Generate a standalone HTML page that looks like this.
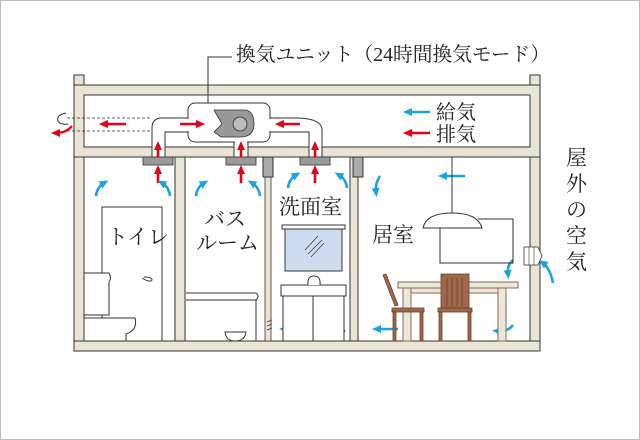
<!DOCTYPE html>
<html><head><meta charset="utf-8"><style>
html,body{margin:0;padding:0;background:#fff}
svg{display:block}
text{font-family:"Liberation Serif","Noto Serif CJK SC",serif;fill:#222}
</style></head><body>
<svg width="640" height="440" viewBox="0 0 640 440" xmlns="http://www.w3.org/2000/svg">
<defs>
<marker id="ar" markerWidth="9" markerHeight="8" refX="4" refY="4" orient="auto" markerUnits="userSpaceOnUse"><path d="M0,0 L9,4 L0,8z" fill="#e60012"/></marker>
<marker id="ab" markerWidth="9" markerHeight="8" refX="4" refY="4" orient="auto" markerUnits="userSpaceOnUse"><path d="M0,0 L9,4 L0,8z" fill="#1aa3e0"/></marker>
</defs>
<rect x="0.5" y="0.5" width="639" height="439" fill="#fff" stroke="#bbb"/>
<g fill="#e9e4d6" stroke="#333" stroke-width="1">
<rect x="74" y="75" width="10" height="276"/>
<rect x="530" y="75" width="10" height="276"/>
<rect x="74" y="85" width="466" height="10"/>
<rect x="74" y="147" width="466" height="10"/>
<rect x="74" y="341" width="466" height="10"/>
<rect x="175" y="157" width="10" height="184"/>
<rect x="350" y="157" width="8" height="184"/>
</g>
<rect x="74.5" y="85.5" width="9" height="71" fill="#e9e4d6"/>
<rect x="530.5" y="85.5" width="9" height="71" fill="#e9e4d6"/>
<rect x="74.5" y="148" width="9" height="8" fill="#e9e4d6"/>
<rect x="530.5" y="148" width="9" height="8" fill="#e9e4d6"/>
<rect x="265" y="177" width="6" height="164" fill="#e9e4d6" stroke="#333" stroke-width="0.8"/>
<rect x="263" y="157" width="10" height="20" fill="#aaa" stroke="#333"/>
<rect x="353" y="157" width="10" height="20" fill="#aaa" stroke="#333"/>
<g fill="#fff" stroke="#333" stroke-width="1">
<path d="M188,118 L162,118 Q152,118 152,128 L152,157 L165,157 L165,132 L188,132"/>
<path d="M270,118 L295,118 Q322,118 322,130 L322,157 L309,157 L309,132 L270,132"/>
<path d="M234,142 L234,157 L248,157 L248,142"/>
<rect x="188" y="103" width="82" height="39" rx="7"/>
</g>
<rect x="186" y="119" width="6" height="12" fill="#fff"/>
<rect x="266" y="119" width="6" height="12" fill="#fff"/>
<rect x="235" y="139" width="12" height="6" fill="#fff"/>
<line x1="67" y1="118" x2="152" y2="118" stroke="#333" stroke-dasharray="3,2" stroke-width="0.8"/>
<line x1="67" y1="131" x2="152" y2="131" stroke="#333" stroke-dasharray="3,2" stroke-width="0.8"/>
<path d="M214,110 L246,110 Q254,112 254,124 Q254,137 240,137 L221,137 L214,132 L222,124 Z" fill="#999" stroke="#333" stroke-width="0.8"/>
<circle cx="240" cy="124" r="7" fill="#bbb" stroke="#333" stroke-width="0.8"/>
<g fill="#999" stroke="#333" stroke-width="0.8">
<rect x="143" y="157" width="30" height="8"/><rect x="226" y="157" width="30" height="8"/><rect x="300" y="157" width="30" height="8"/>
</g>
<path d="M66,113 Q56,115 58,121 Q60,125 68,124" fill="none" stroke="#333"/>
<path d="M72,126 Q66,133 56,133" fill="none" stroke="#e60012" stroke-width="2.2" marker-end="url(#ar)"/>
<polyline points="208,103 208,57 232,57" fill="none" stroke="#333"/>
<g stroke="#e60012" stroke-width="2.6" marker-end="url(#ar)">
<line x1="126" y1="124" x2="104" y2="124"/>
<line x1="180" y1="124" x2="200" y2="124"/>
<line x1="300" y1="124" x2="280" y2="124"/>
<line x1="158" y1="157" x2="158" y2="146"/>
<line x1="241" y1="157" x2="241" y2="146"/>
<line x1="315" y1="157" x2="315" y2="146"/>
<line x1="158" y1="183" x2="158" y2="170"/>
<line x1="241" y1="183" x2="241" y2="170"/>
<line x1="315" y1="183" x2="315" y2="170"/>
<line x1="430" y1="133" x2="408" y2="133"/>
</g>
<g stroke="#1aa3e0" stroke-width="2.6" fill="none" marker-end="url(#ab)">
<line x1="430" y1="112" x2="408" y2="112"/>
<line x1="465" y1="176" x2="443" y2="176"/>
<path d="M96,196 Q97,187 104,183"/>
<path d="M170,196 Q169,187 162,183"/>
<path d="M196,196 Q197,187 204,183"/>
<path d="M260,196 Q259,187 252,183"/>
<path d="M288,188 Q289,179 296,175"/>
<path d="M347,188 Q346,179 339,175"/>
<path d="M380,176 Q375,183 376,192"/>
<path d="M154,332 Q148,326 150,313"/>
<path d="M253,332 Q247,326 249,313"/>
<path d="M345,332 Q339,326 341,313"/>
<line x1="302" y1="329" x2="284" y2="329"/>
<line x1="398" y1="329" x2="377" y2="329"/>
<path d="M513,260 Q507,265 508,274"/>
<path d="M553,283 Q550,268 543,263"/>
<path d="M513,325 Q508,332 497,331"/>
</g>
<path d="M524,247 L538,247 L542,256 L538,265 L524,265Z" fill="#fff" stroke="#333" stroke-width="0.8"/>
<line x1="529" y1="247" x2="529" y2="265" stroke="#333" stroke-width="0.6"/><line x1="534" y1="247" x2="534" y2="265" stroke="#333" stroke-width="0.6"/>
<g fill="#fff" stroke="#333" stroke-width="1">
<rect x="102" y="207" width="60" height="134"/>
<path d="M84,273 L109,273 Q112,278 109,282 L109,315 L84,315Z"/>
<path d="M84,318 L135,318 Q138,330 126,334 L126,341 L84,341Z"/>
<path d="M144,277 Q152,277 152,280 Q150,283 142,278"/>
<path d="M186,293 L256,293 Q260,296 256,300 L256,341 L186,341"/>
<line x1="186" y1="300" x2="256" y2="300"/>
<path d="M225,332 L246,332 Q245,341 235,341 Q226,341 225,332Z"/>
<rect x="282" y="225" width="63" height="4"/>
<rect x="285" y="229" width="57" height="42" fill="#cfdcf0"/>
<rect x="281" y="285" width="65" height="11"/>
<rect x="283" y="296" width="61" height="45"/>
<line x1="313" y1="296" x2="313" y2="341"/>
<path d="M308,285 Q307,276 314,276 Q321,276 320,285"/>
<line x1="452" y1="157" x2="452" y2="213"/>
<path d="M423,228 Q426,213 452,213 Q478,213 482,228Z"/>
<polyline points="478,219 513,219 513,263 440,263 440,228" fill="none"/>
<rect x="398" y="282" width="120" height="6" fill="#ede6dc" stroke="#8a6a50"/>
<rect x="403" y="288" width="8" height="53" fill="#ede6dc" stroke="#8a6a50"/>
<rect x="498" y="288" width="8" height="53" fill="#ede6dc" stroke="#8a6a50"/>
<rect x="411" y="288" width="87" height="5" fill="#ede6dc" stroke="#8a6a50"/>
</g>
<g stroke="#6a4028" fill="#a0684a" stroke-width="0.8">
<path d="M383,275 L386,274 L398,305 L395,306Z"/>
<rect x="392" y="308" width="32" height="4"/>
<rect x="393" y="312" width="3" height="29"/><rect x="420" y="312" width="3" height="29"/>
<rect x="441" y="274" width="28" height="34" fill="#a0684a"/>
<line x1="447" y1="278" x2="447" y2="306"/><line x1="452" y1="278" x2="452" y2="306"/><line x1="457" y1="278" x2="457" y2="306"/><line x1="462" y1="278" x2="462" y2="306"/>
<rect x="438" y="308" width="34" height="4"/>
<rect x="439" y="312" width="3" height="29"/><rect x="468" y="312" width="3" height="29"/>
</g>
<g stroke="#333" stroke-width="0.7">
<line x1="305" y1="250" x2="318" y2="236"/><line x1="308" y1="254" x2="322" y2="240"/><line x1="311" y1="257" x2="324" y2="243"/>
<line x1="267" y1="322" x2="272" y2="320"/><line x1="267" y1="326" x2="272" y2="324"/><line x1="267" y1="330" x2="272" y2="328"/>
</g>
<text x="236" y="61" font-size="20" textLength="314" lengthAdjust="spacingAndGlyphs">換気ユニット（24時間換気モード）</text>
<text x="436" y="119" font-size="20">給気</text>
<text x="436" y="141" font-size="20">排気</text>
<text x="107" y="244" font-size="21">トイレ</text>
<text x="204" y="226" font-size="21">バス</text>
<text x="196" y="250" font-size="21">ルーム</text>
<text x="279" y="214" font-size="21">洗面室</text>
<text x="372" y="242" font-size="21">居室</text>
<g font-size="21">
<text x="566" y="165">屋</text><text x="566" y="191">外</text><text x="566" y="217">の</text><text x="566" y="243">空</text><text x="566" y="269">気</text>
</g>
</svg>
</body></html>
